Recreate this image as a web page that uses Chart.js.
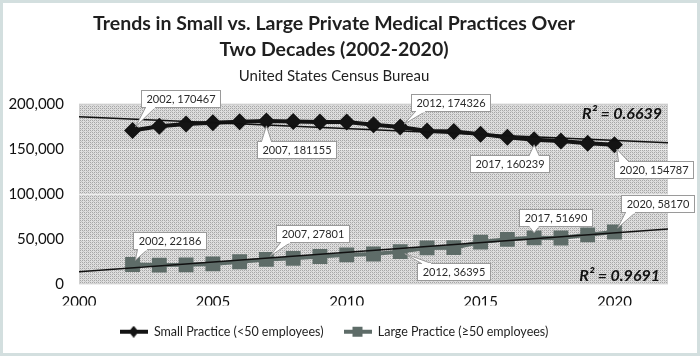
<!DOCTYPE html>
<html>
<head>
<meta charset="utf-8">
<script src="https://cdn.jsdelivr.net/npm/chart.js@4.4.0/dist/chart.umd.min.js"></script>
<style>
  html, body { margin: 0; padding: 0; background: #fff; }
  #wrap { width: 700px; height: 356px; }
</style>
</head>
<body>
<div id="wrap"><canvas id="practices" width="700" height="356"></canvas></div>
<script>
// values
const years = [2002, 2003, 2004, 2005, 2006, 2007, 2008, 2009, 2010, 2011,
  2012, 2013, 2014, 2015, 2016, 2017, 2018, 2019, 2020];
const smallPractice = [170467, 175300, 177800, 179000, 180200, 181155, 180500, 179900, 180000, 177000,
  174326, 170000, 169300, 166500, 163000, 160239, 159000, 156500, 154787];
const largePractice = [22186, 21500, 21800, 22800, 25200, 27801, 29000, 31000, 32800, 33800,
  36395, 40500, 40800, 47000, 50000, 51690, 51500, 55000, 58170];
const trendYears = [2000, 2022];
const smallTrend = [185700, 157000];
const largeTrend = [14000, 61500];
const xTicks = [2000, 2005, 2010, 2015, 2020];
const yTicks = [0, 50000, 100000, 150000, 200000];
const labelledYears = [2002, 2007, 2012, 2017, 2020];
const rSquared = ['0.6639', '0.9691'];

const SMALL_COLOR = '#141414';
const LARGE_COLOR = '#5e6c68';
const FONT = 'Lato';

// where each callout box sits relative to its point (px)
const calloutOffsets = [
  [[48, -32], [30, 29], [50, -25], [-25, 24], [39, 25]],
  [[37, -24], [46, -26], [53, 20], [21, -20], [43, -28]]
];

const toPoints = (xs, ys) => xs.map((v, i) => ({ x: v, y: ys[i] }));

function makePattern() {
  const p = document.createElement('canvas');
  p.width = 4; p.height = 4;
  const g = p.getContext('2d');
  g.fillStyle = '#dedede';
  g.fillRect(0, 0, 4, 4);
  g.fillStyle = '#a6a6a6';
  for (let i = 0; i < 4; i += 2) for (let j = 0; j < 4; j += 2) g.fillRect(i, j, 1, 1);
  g.fillStyle = '#c4c4c4';
  g.fillRect(1, 1, 1, 1); g.fillRect(3, 3, 1, 1);
  return p;
}

function legendIcon(color, style) {
  const c = document.createElement('canvas');
  c.width = 28; c.height = 12;
  const g = c.getContext('2d');
  g.strokeStyle = color; g.lineWidth = 4;
  g.beginPath(); g.moveTo(0, 6); g.lineTo(28, 6); g.stroke();
  g.fillStyle = color;
  g.beginPath();
  if (style === 'diamond') {
    g.moveTo(14, 0); g.lineTo(19, 6); g.lineTo(14, 12); g.lineTo(9, 6);
  } else {
    g.rect(9, 1, 10, 10);
  }
  g.closePath(); g.fill();
  return c;
}

const backgroundPlugin = {
  id: 'plotBackground',
  beforeDraw(chart) {
    const { ctx, chartArea: a } = chart;
    ctx.save();
    ctx.fillStyle = '#fff';
    ctx.fillRect(0, 0, chart.width, chart.height);
    ctx.strokeStyle = '#d3dfdf';
    ctx.lineWidth = 3;
    ctx.strokeRect(1.5, 1.5, chart.width - 3, chart.height - 3);
    ctx.fillStyle = ctx.createPattern(makePattern(), 'repeat');
    ctx.fillRect(a.left, a.top, a.right - a.left, a.bottom - a.top);
    ctx.strokeStyle = '#d0d0d0';
    ctx.lineWidth = 1;
    ctx.strokeRect(a.left + 0.5, a.top + 0.5, a.right - a.left - 1, a.bottom - a.top - 1);
    ctx.restore();
  }
};

const calloutPlugin = {
  id: 'callouts',
  afterDatasetsDraw(chart) {
    const { ctx, scales: { x, y }, chartArea: a } = chart;
    ctx.save();
    ctx.font = '11px ' + FONT;
    ctx.textAlign = 'center';
    ctx.textBaseline = 'middle';
    [smallPractice, largePractice].forEach((values, s) => {
      labelledYears.forEach((yr, k) => {
        const i = years.indexOf(yr);
        const px = x.getPixelForValue(yr);
        const py = y.getPixelForValue(values[i]);
        const [dx, dy] = calloutOffsets[s][k];
        const text = yr + ', ' + values[i];
        const w = Math.round(ctx.measureText(text).width + 10), h = 17;
        const left = Math.round(px + dx - w / 2) + 0.5;
        const top = Math.round(py + dy - h / 2) + 0.5;
        const edgeY = dy < 0 ? top + h : top;
        const baseX = Math.min(Math.max(px, left + 9), left + w - 9);
        const len = Math.hypot(baseX - px, edgeY - py);
        const tipX = px + (baseX - px) * 5 / len;
        const tipY = py + (edgeY - py) * 5 / len;

        ctx.fillStyle = '#fff';
        ctx.strokeStyle = '#9a9a9a';
        ctx.lineWidth = 1;
        ctx.beginPath();
        ctx.moveTo(baseX - 5, edgeY);
        ctx.lineTo(tipX, tipY);
        ctx.lineTo(baseX + 5, edgeY);
        ctx.closePath();
        ctx.fill(); ctx.stroke();
        ctx.fillRect(left, top, w, h);
        ctx.strokeRect(left, top, w, h);
        ctx.fillRect(baseX - 4.5, dy < 0 ? edgeY - 1 : edgeY - 0.5, 9, 2);

        ctx.fillStyle = '#2a2a2a';
        ctx.fillText(text, left + w / 2, top + h / 2 + 0.5);
      });
    });

    ctx.font = 'italic bold 16px ' + FONT;
    ctx.textAlign = 'right';
    ctx.fillStyle = '#111';
    ctx.fillText('R² = ' + rSquared[0], a.right - 6, a.top + 10);
    ctx.fillText('R² = ' + rSquared[1], a.right - 8, a.bottom - 9);
    ctx.restore();
  }
};

new Chart(document.getElementById('practices'), {
  type: 'line',
  data: {
    datasets: [
      {
        label: 'Small Practice (<50 employees)',
        data: toPoints(years, smallPractice),
        borderColor: SMALL_COLOR,
        backgroundColor: SMALL_COLOR,
        borderWidth: 4,
        pointStyle: 'rectRot',
        pointRadius: 8.5,
        pointBorderWidth: 0,
        order: 1,
      },
      {
        label: 'Large Practice (≥50 employees)',
        data: toPoints(years, largePractice),
        borderColor: LARGE_COLOR,
        backgroundColor: LARGE_COLOR,
        borderWidth: 4,
        pointStyle: 'rect',
        pointRadius: 10.5,
        pointBorderWidth: 0,
        order: 1,
      },
      {
        label: 'trend-small',
        data: toPoints(trendYears, smallTrend),
        borderColor: '#111',
        borderWidth: 1.5,
        pointRadius: 0,
        order: 0,
      },
      {
        label: 'trend-large',
        data: toPoints(trendYears, largeTrend),
        borderColor: '#111',
        borderWidth: 1.5,
        pointRadius: 0,
        order: 0,
      },
    ],
  },
  options: {
    responsive: false,
    animation: false,
    devicePixelRatio: 1,
    layout: { padding: { left: 0, right: 32, top: 0, bottom: 8 } },
    plugins: {
      title: {
        display: true,
        text: ['Trends in Small vs. Large Private Medical Practices Over', 'Two Decades (2002-2020)'],
        color: '#1f1f1f',
        font: { family: FONT, size: 19.5, weight: 'bold', lineHeight: 1.33 },
        padding: { top: 11, bottom: 4 },
      },
      subtitle: {
        display: true,
        text: 'United States Census Bureau',
        color: '#1f1f1f',
        font: { family: FONT, size: 15, lineHeight: 1.2 },
        padding: { top: 0, bottom: 19 },
      },
      legend: {
        position: 'bottom',
        labels: {
          usePointStyle: true,
          pointStyleWidth: 28,
          padding: 20,
          color: '#1f1f1f',
          font: { family: FONT, size: 12.5 },
          filter: item => !item.text.startsWith('trend'),
          generateLabels(chart) {
            const items = Chart.defaults.plugins.legend.labels.generateLabels(chart);
            items.forEach(item => {
              if (item.datasetIndex === 0) item.pointStyle = legendIcon(SMALL_COLOR, 'diamond');
              if (item.datasetIndex === 1) item.pointStyle = legendIcon(LARGE_COLOR, 'square');
            });
            return items;
          },
        },
      },
      tooltip: { enabled: false },
    },
    scales: {
      x: {
        type: 'linear',
        min: 2000,
        max: 2022,
        afterFit(scale) { scale.height = 21; },
        afterBuildTicks(scale) { scale.ticks = xTicks.map(v => ({ value: v })); },
        grid: { display: false, drawTicks: false },
        border: { display: false },
        ticks: {
          padding: 9,
          color: '#111',
          font: { family: FONT, size: 15 },
          callback: v => String(v),
        },
      },
      y: {
        min: 0,
        max: 200000,
        afterFit(scale) { scale.width = 79; },
        afterBuildTicks(scale) { scale.ticks = yTicks.map(v => ({ value: v })); },
        grid: { color: '#eeeeee', drawTicks: false },
        border: { display: false },
        ticks: {
          padding: 15,
          color: '#111',
          font: { family: FONT, size: 15 },
          callback: v => v.toLocaleString('en-US'),
        },
      },
    },
  },
  plugins: [backgroundPlugin, calloutPlugin],
});
</script>
</body>
</html>
